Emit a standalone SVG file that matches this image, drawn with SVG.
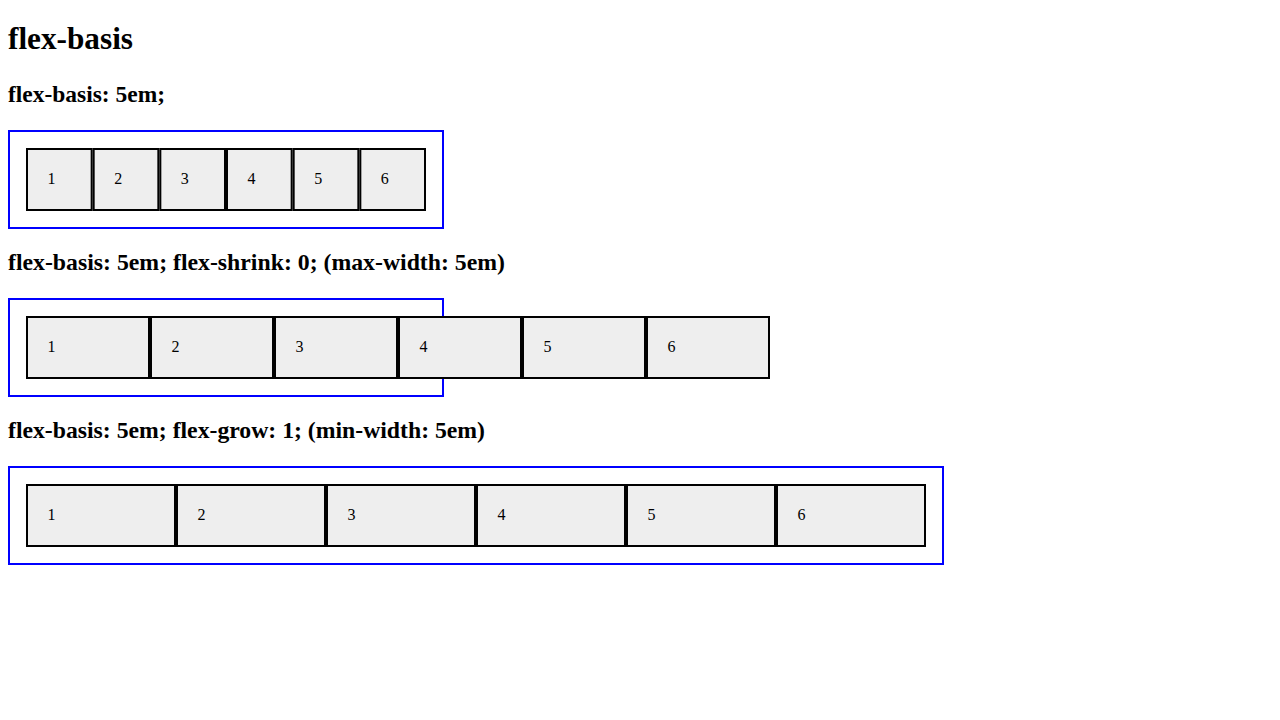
<svg xmlns="http://www.w3.org/2000/svg" width="1280" height="720" viewBox="0 0 1280 720">
<style>
.h1{font-family:"Liberation Serif","Times New Roman",serif;font-weight:bold;font-size:32px;fill:#000}
.h2{font-family:"Liberation Serif","Times New Roman",serif;font-weight:bold;font-size:24px;fill:#000}
.box{fill:none;stroke:#0000ff;stroke-width:2}
.item{fill:#eeeeee;stroke:#000;stroke-width:2}
.lbl{font-family:"Liberation Serif","Times New Roman",serif;font-size:16px;fill:#000}
</style>
<rect width="1280" height="720" fill="#fff"/>
<text class="h1" x="8" y="49" textLength="125" lengthAdjust="spacingAndGlyphs">flex-basis</text>
<text class="h2" x="8" y="102" textLength="157" lengthAdjust="spacingAndGlyphs">flex-basis: 5em;</text>
<text class="h2" x="8" y="270" textLength="497" lengthAdjust="spacingAndGlyphs">flex-basis: 5em; flex-shrink: 0; (max-width: 5em)</text>
<text class="h2" x="8" y="438" textLength="477" lengthAdjust="spacingAndGlyphs">flex-basis: 5em; flex-grow: 1; (min-width: 5em)</text>

<g id="container1">
<rect class="box" x="9" y="131" width="434" height="97"/>
<g id="c1-item1"><rect class="item" x="27" y="149" width="64.67" height="61"/><text class="lbl" x="47.5" y="184">1</text></g>
<g id="c1-item2"><rect class="item" x="93.67" y="149" width="64.67" height="61"/><text class="lbl" x="114.2" y="184">2</text></g>
<g id="c1-item3"><rect class="item" x="160.33" y="149" width="64.67" height="61"/><text class="lbl" x="180.8" y="184">3</text></g>
<g id="c1-item4"><rect class="item" x="227" y="149" width="64.67" height="61"/><text class="lbl" x="247.5" y="184">4</text></g>
<g id="c1-item5"><rect class="item" x="293.67" y="149" width="64.67" height="61"/><text class="lbl" x="314.2" y="184">5</text></g>
<g id="c1-item6"><rect class="item" x="360.33" y="149" width="64.67" height="61"/><text class="lbl" x="380.8" y="184">6</text></g>
</g>

<g id="container2">
<rect class="box" x="9" y="299" width="434" height="97"/>
<g id="c2-item1"><rect class="item" x="27" y="317" width="122" height="61"/><text class="lbl" x="47.5" y="352">1</text></g>
<g id="c2-item2"><rect class="item" x="151" y="317" width="122" height="61"/><text class="lbl" x="171.5" y="352">2</text></g>
<g id="c2-item3"><rect class="item" x="275" y="317" width="122" height="61"/><text class="lbl" x="295.5" y="352">3</text></g>
<g id="c2-item4"><rect class="item" x="399" y="317" width="122" height="61"/><text class="lbl" x="419.5" y="352">4</text></g>
<g id="c2-item5"><rect class="item" x="523" y="317" width="122" height="61"/><text class="lbl" x="543.5" y="352">5</text></g>
<g id="c2-item6"><rect class="item" x="647" y="317" width="122" height="61"/><text class="lbl" x="667.5" y="352">6</text></g>
</g>

<g id="container3">
<rect class="box" x="9" y="467" width="934" height="97"/>
<g id="c3-item1"><rect class="item" x="27" y="485" width="148" height="61"/><text class="lbl" x="47.5" y="520">1</text></g>
<g id="c3-item2"><rect class="item" x="177" y="485" width="148" height="61"/><text class="lbl" x="197.5" y="520">2</text></g>
<g id="c3-item3"><rect class="item" x="327" y="485" width="148" height="61"/><text class="lbl" x="347.5" y="520">3</text></g>
<g id="c3-item4"><rect class="item" x="477" y="485" width="148" height="61"/><text class="lbl" x="497.5" y="520">4</text></g>
<g id="c3-item5"><rect class="item" x="627" y="485" width="148" height="61"/><text class="lbl" x="647.5" y="520">5</text></g>
<g id="c3-item6"><rect class="item" x="777" y="485" width="148" height="61"/><text class="lbl" x="797.5" y="520">6</text></g>
</g>
</svg>
